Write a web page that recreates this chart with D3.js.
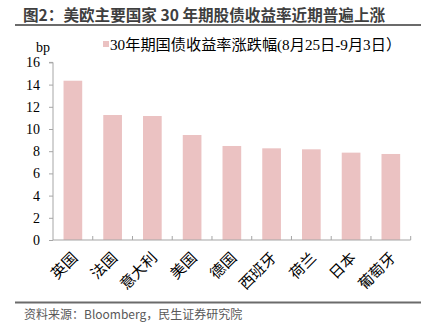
<!DOCTYPE html>
<html><head><meta charset="utf-8">
<script src="https://cdn.jsdelivr.net/npm/d3@7"></script>
<style>
html,body{margin:0;padding:0;background:#fff;}
svg{display:block;}
</style></head>
<body>
<script>
const categories = ["英国","法国","意大利","美国","德国","西班牙","荷兰","日本","葡萄牙"];
const values = [14.35, 11.26, 11.17, 9.46, 8.47, 8.26, 8.17, 7.87, 7.75];
const yTicks = [0,2,4,6,8,10,12,14,16];
const seriesName = "30年期国债收益率涨跌幅(8月25日-9月3日）";
const titleText = "图2：美欧主要国家 30 年期股债收益率近期普遍上涨";
const sourceText = "资料来源：Bloomberg，民生证券研究院";
const unitText = "bp";

const W = 434, H = 325;
const svg = d3.select("body").append("svg").attr("width", W).attr("height", H);
const serif = "'Liberation Serif','Times New Roman','DejaVu Serif','Noto Sans CJK SC',serif";
const sans = "'Noto Sans CJK SC','Noto Sans',sans-serif";

// Title
svg.append("text").attr("x", 23).attr("y", 20.5)
  .attr("font-family", sans).attr("font-weight", "bold").attr("font-size", 15.6)
  .attr("fill", "#3f3f3f").text(titleText);
svg.append("line").attr("x1", 15).attr("x2", 421).attr("y1", 25).attr("y2", 25)
  .attr("stroke", "#6b6b6b").attr("stroke-width", 2);

// Footer
svg.append("line").attr("x1", 15).attr("x2", 421).attr("y1", 302.5).attr("y2", 302.5)
  .attr("stroke", "#6b6b6b").attr("stroke-width", 2);
svg.append("text").attr("x", 24).attr("y", 319)
  .attr("font-family", sans).attr("font-size", 12)
  .attr("fill", "#595959").text(sourceText);

// Scales
const x = d3.scaleBand().domain(categories).range([53, 410.7]).paddingInner(0.53).paddingOuter(0.265);
const y = d3.scaleLinear().domain([0, 16]).range([240, 62.4]);

// Bars
svg.append("g").selectAll("rect").data(values).join("rect")
  .attr("x", (d, i) => x(categories[i]))
  .attr("width", x.bandwidth())
  .attr("y", d => y(d))
  .attr("height", d => y(0) - y(d))
  .attr("fill", "#ebc2c2");

// Y axis
const yAxis = svg.append("g").attr("transform", "translate(53,0)")
  .call(d3.axisLeft(y).tickValues(yTicks).tickSize(4).tickPadding(9).tickFormat(d3.format("d")));
yAxis.select(".domain").attr("stroke", "#a6a6a6").attr("d", "M-4,62.4H0V240");
yAxis.selectAll(".tick line").attr("stroke", "#a6a6a6");
yAxis.selectAll("text").attr("font-family", serif).attr("font-size", 14).attr("fill", "#000");

// X axis
const bandStep = x.step();
const xAxis = svg.append("g").attr("transform", "translate(0,240)");
xAxis.append("line").attr("x1", 53).attr("x2", 410.7).attr("y1", 0).attr("y2", 0)
  .attr("stroke", "#a6a6a6").attr("stroke-width", 1.2);
const boundaries = d3.range(1, categories.length + 1).map(i => x(categories[0]) - x.step()*x.paddingOuter() + i * bandStep);
xAxis.selectAll(".bt").data(boundaries).join("line")
  .attr("x1", d => d).attr("x2", d => d).attr("y1", 0).attr("y2", -4)
  .attr("stroke", "#a6a6a6");
xAxis.selectAll(".xl").data(categories).join("text")
  .attr("transform", d => `translate(${x(d) + x.bandwidth()/2 + 2},${15}) rotate(-45)`)
  .attr("text-anchor", "end")
  .attr("dy", "0.35em")
  .attr("font-family", serif).attr("font-size", 15).attr("fill", "#000")
  .text(d => d);

// Unit label
svg.append("text").attr("x", 36).attr("y", 52)
  .attr("font-family", serif).attr("font-size", 14).attr("fill", "#000").text(unitText);

// Legend
svg.append("rect").attr("x", 103).attr("y", 41).attr("width", 6).attr("height", 6).attr("fill", "#ebc2c2");
svg.append("text").attr("x", 110).attr("y", 50)
  .attr("font-family", serif).attr("font-size", 15.2).attr("fill", "#000").text(seriesName);
</script>
</body></html>
